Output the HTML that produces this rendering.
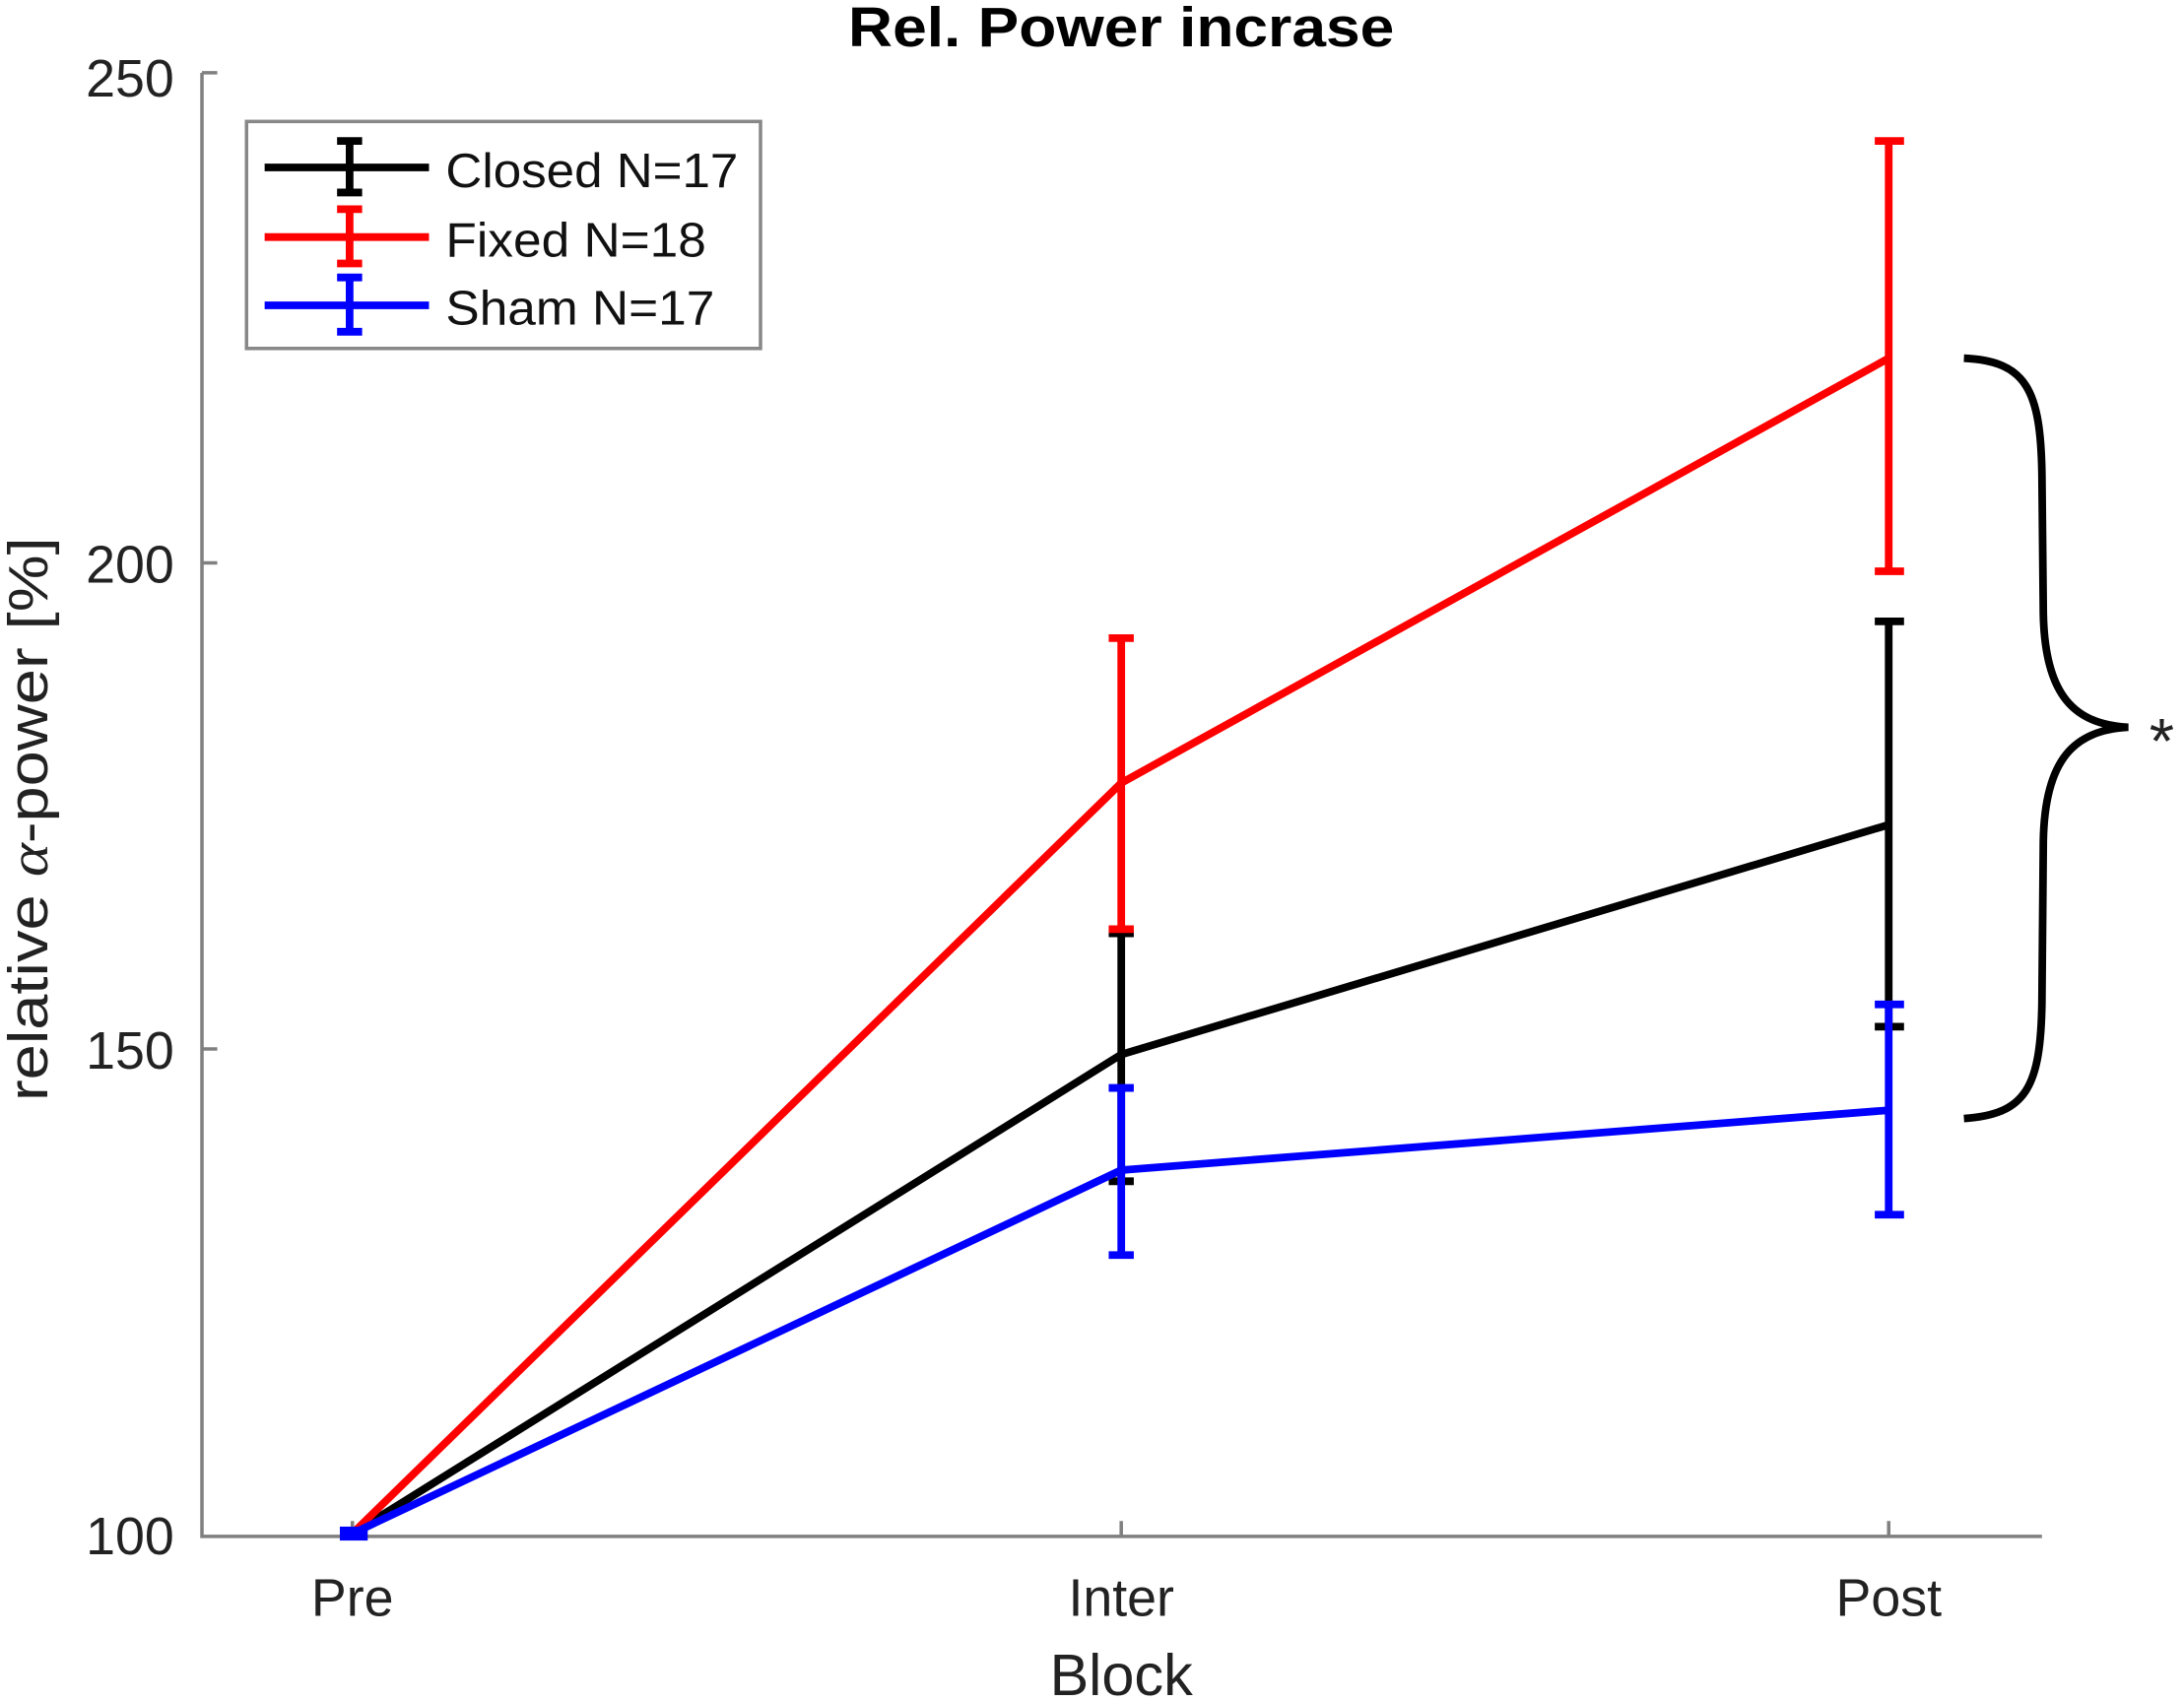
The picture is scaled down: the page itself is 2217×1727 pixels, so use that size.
<!DOCTYPE html>
<html><head><meta charset="utf-8"><style>html,body{margin:0;padding:0;background:#fff}svg{display:block}</style></head>
<body>
<svg width="2217" height="1727" viewBox="0 0 1568 1221" xmlns="http://www.w3.org/2000/svg" font-family="Liberation Sans, sans-serif">
<rect width="1568" height="1221" fill="#fff"/>
<text x="805" y="33" font-size="40" font-weight="bold" text-anchor="middle" textLength="392" lengthAdjust="spacingAndGlyphs">Rel. Power incrase</text>
<g stroke="#808080" stroke-width="2.5" fill="none">
<path d="M145,52 V1103 H1466"/>
<path d="M145,52 H156 M145,404 H156 M145,753 H156"/>
<path d="M805,1103 V1092 M1356,1103 V1092 M253,1103 V1092"/>
</g>
<g font-size="38" fill="#222" text-anchor="end">
<text x="125" y="69">250</text>
<text x="125" y="418">200</text>
<text x="125" y="767">150</text>
<text x="125" y="1116">100</text>
</g>
<g font-size="38" fill="#222" text-anchor="middle">
<text x="253" y="1160">Pre</text>
<text x="805" y="1160">Inter</text>
<text x="1356" y="1160">Post</text>
<text x="805" y="1217" font-size="42">Block</text>
</g>
<text transform="translate(34,588) rotate(-90)" font-size="40" text-anchor="middle" fill="#222" textLength="405" lengthAdjust="spacingAndGlyphs">relative <tspan font-family="Liberation Serif, serif" font-style="italic">α</tspan>-power [%]</text>
<g fill="none" stroke-width="5.5">
<g stroke="#000">
<polyline points="253,1101 805,757 1356,592"/>
<path d="M805,670 V848 M796,670 H814 M796,848 H814"/>
<path d="M1356,446 V737 M1346,446 H1367 M1346,737 H1367"/>
</g>
<g stroke="#ff0000">
<polyline points="253,1101 805,562 1356,257"/>
<path d="M805,458 V667 M796,458 H814 M796,667 H814"/>
<path d="M1356,101 V410 M1346,101 H1367 M1346,410 H1367"/>
</g>
<g stroke="#0000ff">
<polyline points="253,1101 805,840 1356,797"/>
<path d="M805,781 V901 M796,781 H814 M796,901 H814"/>
<path d="M1356,721 V872 M1346,721 H1367 M1346,872 H1367"/>
</g>
</g>
<rect x="244" y="1096" width="20" height="10" fill="#0000ff"/>
<path d="M1410,257 C1455,259 1465,280 1466,340 L1467,440 C1468,500 1490,520 1528,522 C1490,524 1468,544 1467,604 L1466,720 C1465,780 1455,800 1410,803" fill="none" stroke="#000" stroke-width="5.5"/>
<text x="1552" y="548" font-size="46" text-anchor="middle" fill="#222">*</text>
<rect x="177" y="87" width="369" height="163" fill="#fff" stroke="#888" stroke-width="2.5"/>
<g stroke-width="5.5" fill="none">
<g stroke="#000"><path d="M190,120 H308 M251,101 V138 M242,101 H260 M242,138 H260"/></g>
<g stroke="#ff0000"><path d="M190,170 H308 M251,150 V189 M242,150 H260 M242,189 H260"/></g>
<g stroke="#0000ff"><path d="M190,219 H308 M251,199 V238 M242,199 H260 M242,238 H260"/></g>
</g>
<g font-size="35" fill="#111">
<text x="320" y="134" textLength="210" lengthAdjust="spacingAndGlyphs">Closed N=17</text>
<text x="320" y="184" textLength="187" lengthAdjust="spacingAndGlyphs">Fixed N=18</text>
<text x="320" y="233" textLength="193" lengthAdjust="spacingAndGlyphs">Sham N=17</text>
</g>
</svg>
</body></html>
